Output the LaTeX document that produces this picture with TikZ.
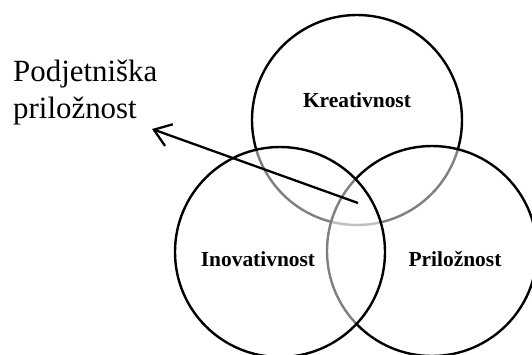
\documentclass[tikz,border=0pt]{standalone}
\usepackage{fontspec}
\setmainfont{Liberation Serif}
\usetikzlibrary{arrows.meta}
\begin{document}
\begin{tikzpicture}[x=1bp,y=-1bp,
  ring/.style={line width=2.4bp, draw=black},
  veil/.style={ring, fill=white, fill opacity=0.5},
  label/.style={font=\fontsize{21.5}{25}\selectfont\bfseries, inner sep=0},
  pointer/.style={line width=2.3bp, -{Straight Barb[length=16bp,width=23bp,line width=2.3bp]}}]
  \useasboundingbox (0,0) rectangle (532,354);
  \clip (0,0) rectangle (532,354);
  % three overlapping sets; later circles veil the outlines beneath them
  \draw[ring] (357,120) circle[radius=105];
  \draw[veil] (432,251) circle[radius=105];
  \draw[veil] (280,252) circle[radius=105];
  \node[label] (krea) at (357,100) {Kreativnost};
  \node[label] (inov) at (258,259) {Inovativnost};
  \node[label] (pril) at (455,259) {Priložnost};
  % caption with the pointer from the common area
  \node[font=\fontsize{31}{37}\selectfont, align=left, anchor=north west, inner sep=0]
    (cap) at (13,60) {Podjetniška\\priložnost};
  \coordinate (core) at (358,203);
  \coordinate (tip) at (152,129);
  \draw[pointer] (core) -- (tip);
\end{tikzpicture}
\end{document}
